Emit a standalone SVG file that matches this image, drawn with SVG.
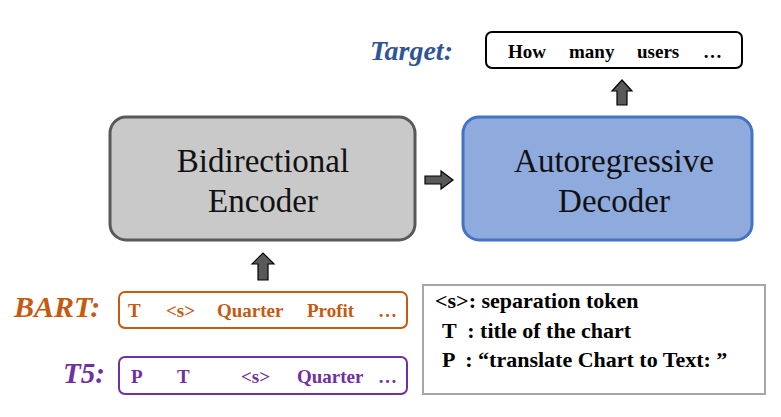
<svg xmlns="http://www.w3.org/2000/svg" width="781" height="417" viewBox="0 0 781 417">
<style>
text{font-family:"Liberation Serif","Times New Roman","DejaVu Serif",serif}
.big{font-size:33px;fill:#111;text-anchor:middle}
.tok{font-size:19px;font-weight:bold}
.lab{font-weight:bold;font-style:italic}
.leg{font-size:22px;font-weight:bold;fill:#000}
.blk{fill:#595959;stroke:#000;stroke-width:1.2}
</style>
<rect width="781" height="417" fill="#fff"/>
<g id="encoder">
<rect x="110" y="117" width="305" height="123" rx="16" fill="#C9C9C9" stroke="#595959" stroke-width="3"/>
<text class="big" x="263" y="172">Bidirectional</text>
<text class="big" x="263" y="212">Encoder</text>
</g>
<g id="decoder">
<rect x="463" y="117" width="289" height="123" rx="16" fill="#8FAADC" stroke="#4472C4" stroke-width="3"/>
<text class="big" x="614" y="172">Autoregressive</text>
<text class="big" x="614" y="212">Decoder</text>
</g>
<g id="target">
<text class="lab" x="370" y="60" font-size="28" fill="#2F5597">Target:</text>
<rect x="486" y="32" width="256" height="36" rx="6" fill="#fff" stroke="#000" stroke-width="2"/>
<text class="tok" y="58" fill="#000"><tspan x="508">How</tspan><tspan x="569">many</tspan><tspan x="637">users</tspan><tspan x="703">…</tspan></text>
</g>
<g id="bart">
<text class="lab" x="14" y="317" font-size="30" fill="#C55A11">BART:</text>
<rect x="119" y="292" width="288" height="36" rx="6" fill="#fff" stroke="#C55A11" stroke-width="2"/>
<text class="tok" y="317" fill="#C55A11"><tspan x="128">T</tspan><tspan x="166">&lt;s&gt;</tspan><tspan x="217">Quarter</tspan><tspan x="307">Profit</tspan><tspan x="378">…</tspan></text>
</g>
<g id="t5">
<text class="lab" x="63" y="383" font-size="29" fill="#7030A0">T5:</text>
<rect x="119" y="357" width="288" height="37" rx="6" fill="#fff" stroke="#7030A0" stroke-width="2"/>
<text class="tok" y="383" fill="#7030A0"><tspan x="131">P</tspan><tspan x="177">T</tspan><tspan x="241">&lt;s&gt;</tspan><tspan x="297">Quarter</tspan><tspan x="378">…</tspan></text>
</g>
<g id="legend">
<rect x="423" y="285" width="342" height="109" fill="#fff" stroke="#A6A6A6" stroke-width="2"/>
<text class="leg" x="435" y="308">&lt;s&gt;: separation token</text>
<text class="leg" x="442" y="338" xml:space="preserve">T  : title of the chart</text>
<text class="leg" x="442" y="367" xml:space="preserve">P  : “translate Chart to Text: ”</text>
</g>
<g id="connectors">
<path class="blk" d="M425,176 H441 V171 L453,180 L441,189 V184 H425 Z"/>
<path class="blk" d="M258,280 V264 H252 L263,253 L274,264 H268 V280 Z"/>
<path class="blk" d="M617,105 V91 H612 L622,80 L632,91 H627 V105 Z"/>
</g>
</svg>
